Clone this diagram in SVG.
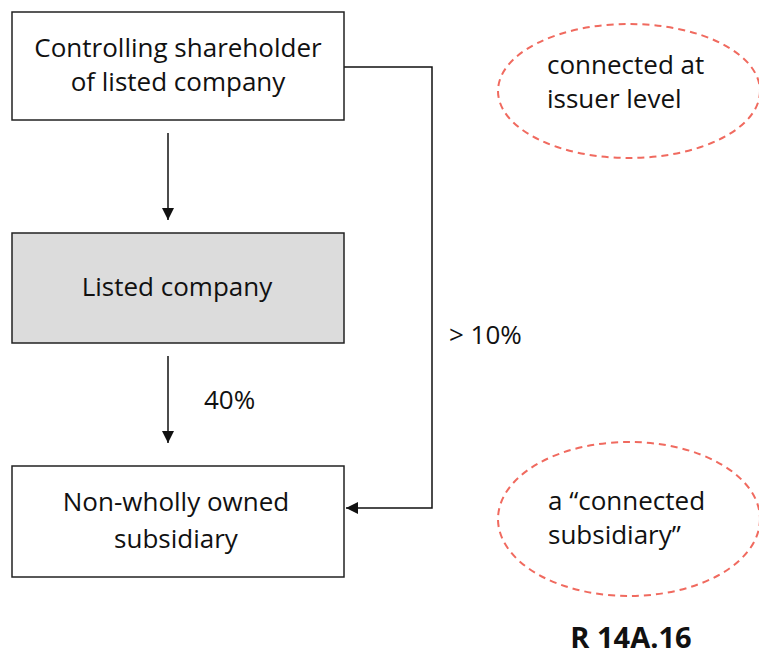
<svg xmlns="http://www.w3.org/2000/svg" width="759" height="656" viewBox="0 0 759 656">
<style>
.box{fill:#fff;stroke:#222;stroke-width:1.5}
.grey{fill:#dcdcdc}
.t{font-family:"Open Sans","Liberation Sans",sans-serif;font-size:26px;fill:#111}
.c{text-anchor:middle}
.ell{fill:none;stroke:#f06a5f;stroke-width:2;stroke-dasharray:7 5}
.ln{fill:none;stroke:#111;stroke-width:1.5}
</style>
<defs>
<marker id="ah" viewBox="0 0 10 10" refX="10" refY="5" markerWidth="12" markerHeight="12" markerUnits="userSpaceOnUse" orient="auto"><path d="M0,0L10,5L0,10z" fill="#111"/></marker>
</defs>
<rect width="759" height="656" fill="#fff"/>
<g id="connectors">
<line class="ln" x1="168" y1="133" x2="168" y2="220" marker-end="url(#ah)"/>
<line class="ln" x1="168" y1="356" x2="168" y2="443" marker-end="url(#ah)"/>
<polyline class="ln" points="344,67 432,67 432,508 346,508" marker-end="url(#ah)"/>
<text class="t" x="204" y="409">40%</text>
<text class="t" x="449" y="344">&gt; 10%</text>
</g>
<g id="controlling">
<rect class="box" x="12" y="12" width="332" height="108"/>
<text class="t c" x="178" y="57">Controlling shareholder</text>
<text class="t c" x="178" y="91">of listed company</text>
</g>
<g id="listed">
<rect class="box grey" x="12" y="233" width="332" height="110"/>
<text class="t c" x="177" y="296">Listed company</text>
</g>
<g id="subsidiary">
<rect class="box" x="12" y="466" width="332" height="111"/>
<text class="t c" x="176" y="511">Non-wholly owned</text>
<text class="t c" x="176" y="548">subsidiary</text>
</g>
<g id="issuer-note">
<ellipse class="ell" cx="629" cy="91" rx="131" ry="67"/>
<text class="t" x="547" y="74">connected at</text>
<text class="t" x="547" y="108">issuer level</text>
</g>
<g id="connected-note">
<ellipse class="ell" cx="629" cy="519" rx="131" ry="77"/>
<text class="t" x="548" y="510">a “connected</text>
<text class="t" x="548" y="544">subsidiary”</text>
</g>
<text x="631" y="648" text-anchor="middle" font-family="'Open Sans','Liberation Sans',sans-serif" font-size="29" font-weight="bold" fill="#111">R 14A.16</text>
</svg>
